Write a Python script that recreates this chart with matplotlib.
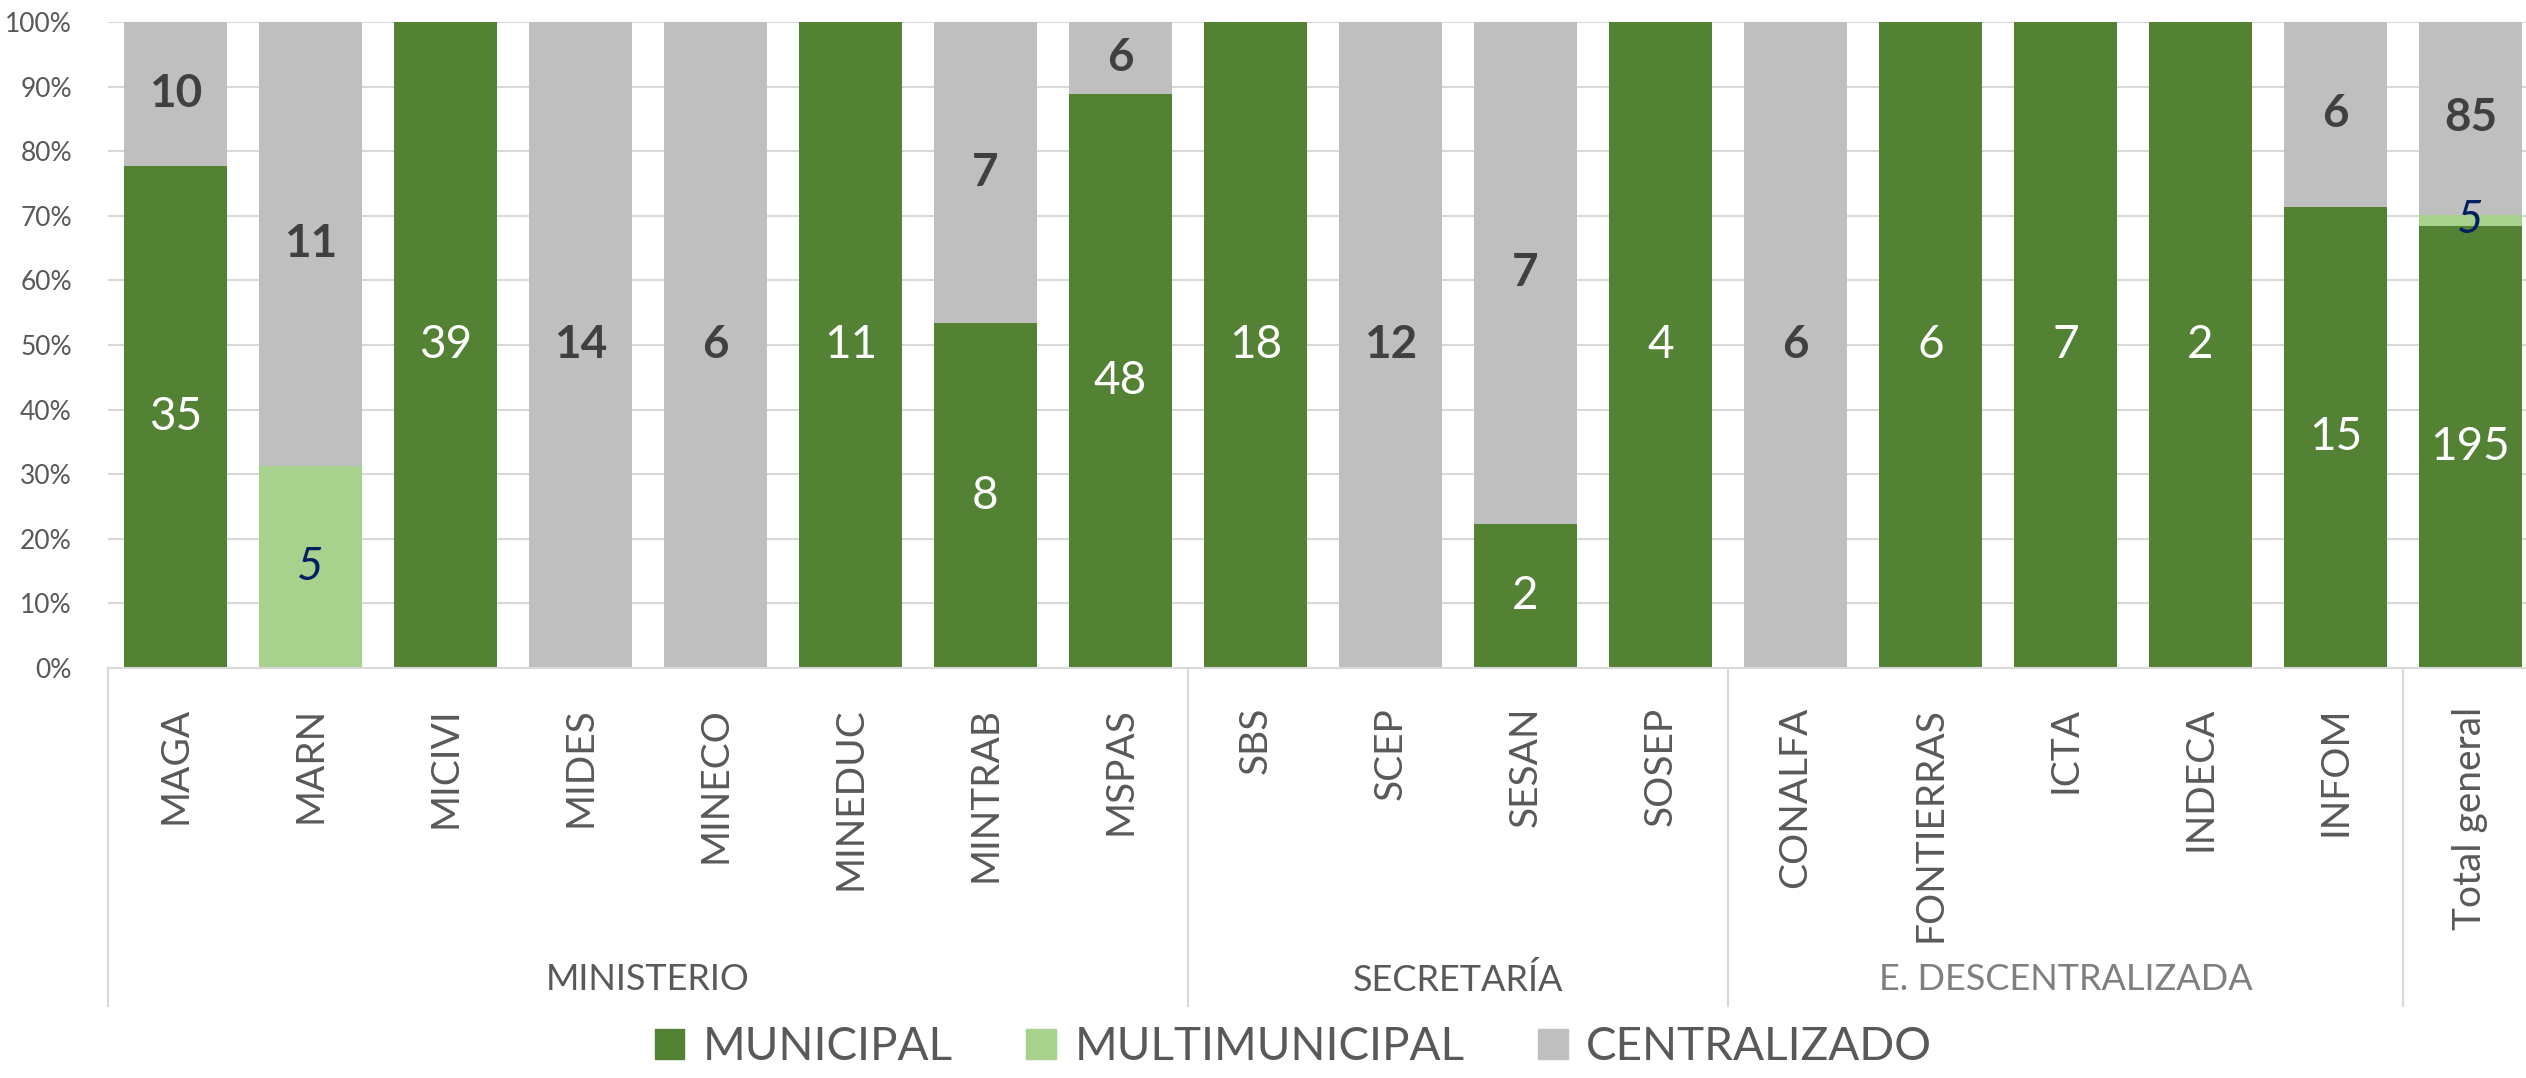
import numpy as np
import matplotlib
matplotlib.use("Agg")
import matplotlib.pyplot as plt
from matplotlib.patches import Patch
from matplotlib.transforms import blended_transform_factory

plt.rcParams["font.family"] = ["Lato", "DejaVu Sans"]

categories = ["MAGA", "MARN", "MICIVI", "MIDES", "MINECO", "MINEDUC", "MINTRAB",
              "MSPAS", "SBS", "SCEP", "SESAN", "SOSEP", "CONALFA", "FONTIERRAS",
              "ICTA", "INDECA", "INFOM", "Total general"]
municipal = [35, 0, 39, 0, 0, 11, 8, 48, 18, 0, 2, 4, 0, 6, 7, 2, 15, 195]
multimunicipal = [0, 5, 0, 0, 0, 0, 0, 0, 0, 0, 0, 0, 0, 0, 0, 0, 0, 5]
centralizado = [10, 11, 0, 14, 6, 0, 7, 6, 0, 12, 7, 0, 6, 0, 0, 0, 6, 85]
groups = ["MINISTERIO", "SECRETARÍA", "E. DESCENTRALIZADA", ""]
group_sizes = [8, 4, 5, 1]

series = [
    ("MUNICIPAL", np.array(municipal), "#548235",
     dict(color="white", fontsize=33)),
    ("MULTIMUNICIPAL", np.array(multimunicipal), "#A9D18E",
     dict(color="#002060", fontsize=33, style="italic")),
    ("CENTRALIZADO", np.array(centralizado), "#BFBFBF",
     dict(color="#404040", fontsize=33, fontweight="bold")),
]
totals = sum(s[1] for s in series)

fig = plt.figure(figsize=(25.26, 10.78), dpi=100)
ax = fig.add_axes([108 / 2526, 1 - 668 / 1078, 2430 / 2526, 646 / 1078])

x = np.arange(len(categories))
bottom = np.zeros(len(categories))
for name, vals, color, style in series:
    share = vals / totals
    ax.bar(x, share, width=0.763, bottom=bottom, color=color, label=name, zorder=2)
    for xi, v, s, b in zip(x, vals, share, bottom):
        if v > 0:
            ax.text(xi, b + s / 2, str(v), ha="center", va="center", zorder=3, **style)
    bottom += share

ax.set_xlim(-0.5, len(categories) - 0.5)
ax.set_ylim(0, 1)
ax.set_yticks(np.arange(0, 1.01, 0.1))
ax.set_yticklabels([f"{int(round(t * 100))}%" for t in np.arange(0, 1.01, 0.1)])
ax.yaxis.grid(True, color="#D9D9D9", linewidth=1.5, zorder=0)
ax.tick_params(axis="y", length=0, pad=26, labelsize=19, labelcolor="#595959")
ax.set_xticks(x)
ax.set_xticklabels(categories, rotation=90)
ax.tick_params(axis="x", length=0, pad=28, labelsize=28, labelcolor="#595959")
for sp in ["top", "right", "left"]:
    ax.spines[sp].set_visible(False)
ax.spines["bottom"].set_color("#D9D9D9")
ax.spines["bottom"].set_linewidth(1.5)

# group separators and labels under the axis
trans = blended_transform_factory(ax.transData, ax.transAxes)
ftrans = blended_transform_factory(ax.transData, fig.transFigure)
start = -0.5
edges = [start]
for g, n in zip(groups, group_sizes):
    end = start + n
    if g:
        ax.text((start + end) / 2, 1 - 980 / 1078, g, transform=ftrans,
                ha="center", va="center", fontsize=26,
                color="#7F7F7F" if g.startswith("E.") else "#595959")
    edges.append(end)
    start = end
for e in edges:
    ax.plot([e, e], [0, -0.523], transform=trans, color="#D9D9D9",
            linewidth=1.5, clip_on=False)

handles = [Patch(color=c, label=n) for n, _, c, _ in series]
fig.legend(handles=handles, loc="lower center", bbox_to_anchor=(0.512, -0.012),
           ncol=3, frameon=False, fontsize=33, handlelength=0.65, handleheight=0.65,
           handletextpad=0.4, columnspacing=1.6, borderpad=0, labelcolor="#595959")

fig.savefig("out.png", dpi=100)
